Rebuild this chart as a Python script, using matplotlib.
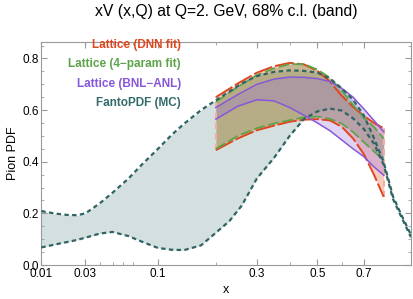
import matplotlib
matplotlib.use("Agg")
import matplotlib.pyplot as plt
import numpy as np

plt.rcParams['font.family'] = ['Liberation Sans', 'DejaVu Sans']

# ---------------- data ----------------
fanto_x = [0.01, 0.015, 0.02, 0.025, 0.03, 0.04, 0.05, 0.065, 0.08, 0.1, 0.12, 0.14, 0.17,
           0.2, 0.23, 0.26, 0.3, 0.35, 0.4, 0.45, 0.5, 0.55, 0.6, 0.65, 0.7, 0.75, 0.8,
           0.85, 0.9, 0.951]
fanto_up = [0.209, 0.199, 0.194, 0.193, 0.200, 0.240, 0.280, 0.335, 0.390, 0.450, 0.505, 0.548,
            0.600, 0.638, 0.672, 0.703, 0.732, 0.748, 0.754, 0.752, 0.745, 0.722, 0.684, 0.640,
            0.580, 0.492, 0.398, 0.265, 0.188, 0.117]
fanto_lo = [0.068, 0.080, 0.089, 0.097, 0.106, 0.122, 0.128, 0.112, 0.090, 0.066, 0.059, 0.058,
            0.076, 0.125, 0.170, 0.230, 0.335, 0.415, 0.500, 0.566, 0.595, 0.606, 0.598, 0.568,
            0.527, 0.470, 0.388, 0.255, 0.180, 0.108]

lat_x = [0.2, 0.25, 0.3, 0.35, 0.4, 0.45, 0.5, 0.55, 0.6, 0.65, 0.7, 0.75, 0.8]
dnn_up = [0.650, 0.703, 0.745, 0.770, 0.783, 0.777, 0.752, 0.710, 0.655, 0.612, 0.578, 0.550, 0.530]
dnn_lo = [0.445, 0.490, 0.522, 0.540, 0.555, 0.563, 0.565, 0.560, 0.535, 0.490, 0.430, 0.350, 0.264]
fp_up = [0.632, 0.690, 0.735, 0.762, 0.778, 0.778, 0.757, 0.725, 0.675, 0.620, 0.570, 0.535, 0.490]
fp_lo = [0.450, 0.500, 0.530, 0.548, 0.561, 0.572, 0.575, 0.566, 0.548, 0.515, 0.476, 0.440, 0.406]
bnl_up = [0.610, 0.660, 0.700, 0.720, 0.728, 0.727, 0.722, 0.710, 0.684, 0.650, 0.605, 0.560, 0.516]
bnl_lo = [0.565, 0.615, 0.640, 0.636, 0.610, 0.580, 0.550, 0.520, 0.484, 0.450, 0.420, 0.380, 0.348]

labels = ["Lattice (DNN fit)", "Lattice (4\u2212param fit)", "Lattice (BNL\u2212ANL)", "FantoPDF (MC)"]
xticks = [0.01, 0.03, 0.1, 0.3, 0.5, 0.7]
xtick_labels = ["0.01", "0.03", "0.1", "0.3", "0.5", "0.7"]
xminor = [0.04, 0.05, 0.06, 0.07, 0.2, 0.4, 0.6]
yticks = [0.0, 0.2, 0.4, 0.6, 0.8]

# ---------------- style ----------------
c_red = '#E0461E'
c_green = '#5DA34A'
c_purple = '#8757D9'
c_teal = '#2E6464'
c_teal_txt = '#336B6B'

fig = plt.figure(figsize=(4.13, 2.99), dpi=100)
ax = fig.add_axes([0.100, 0.1137, 0.895, 0.7468])

p = 0.35
ax.set_xscale('function', functions=(lambda v: np.power(np.clip(v, 1e-12, None), p),
                                      lambda v: np.power(np.clip(v, 0, None), 1 / p)))
ax.set_xlim(0.01, 0.951)
ax.set_ylim(0, 0.865)

# FantoPDF band
ax.fill_between(fanto_x, fanto_lo, fanto_up, color='#D4DFDF', lw=0, zorder=1)

# lattice bands
ax.fill_between(lat_x, dnn_lo, dnn_up, color='#EE8C78', alpha=0.45, lw=0, zorder=2)
ax.fill_between(lat_x, fp_lo, fp_up, color='#7A9A45', alpha=0.40, lw=0, zorder=2)
ax.fill_between(lat_x, bnl_lo, bnl_up, color='#9B72E0', alpha=0.30, lw=0, zorder=2)

# band edges at the ends of lattice range
for xe, lo, hi in [(lat_x[0], dnn_lo[0], dnn_up[0]), (lat_x[-1], dnn_lo[-1], dnn_up[-1])]:
    ax.plot([xe, xe], [lo, hi], color='#F4AFA3', lw=1.5, ls=(0, (3, 2)), zorder=3)

# boundary lines
ax.plot(lat_x, dnn_up, color=c_red, lw=1.4, ls=(0, (10, 1.5)), zorder=4)
ax.plot(lat_x, dnn_lo, color=c_red, lw=1.4, ls=(0, (10, 1.5)), zorder=4)
ax.plot(lat_x, fp_up, color=c_green, lw=1.3, ls=(0, (6, 2)), zorder=4)
ax.plot(lat_x, fp_lo, color=c_green, lw=1.3, ls=(0, (6, 2)), zorder=4)
ax.plot(lat_x, bnl_up, color=c_purple, lw=1.1, zorder=4)
ax.plot(lat_x, bnl_lo, color=c_purple, lw=1.1, zorder=4)
ax.plot(fanto_x, fanto_up, color=c_teal, lw=1.6, ls=(0, (2, 1.5)), zorder=5)
ax.plot(fanto_x, fanto_lo, color=c_teal, lw=1.6, ls=(0, (2, 1.5)), zorder=5)

# legend texts
for lab, col, yy in zip(labels, [c_red, c_green, c_purple, c_teal_txt], [0.985, 0.900, 0.811, 0.725]):
    ax.text(0.378, yy, lab, transform=ax.transAxes, ha='right', va='center',
            fontsize=8.5, fontweight='bold', color=col)

# axes styling
ax.set_xticks(xticks)
ax.set_xticklabels(xtick_labels)
ax.set_xticks(xminor, minor=True)
ax.set_yticks(yticks)
ax.set_yticklabels(["0.0", "0.2", "0.4", "0.6", "0.8"])
ax.set_yticks(np.arange(0.05, 0.86, 0.05), minor=True)
ax.tick_params(which='both', direction='in', top=True, right=True, color='#999999',
               labelsize=8.5, pad=2)
ax.tick_params(which='major', length=4, width=0.8)
ax.tick_params(which='minor', length=2.5, width=0.6)
for s in ax.spines.values():
    s.set_color('#999999')
    s.set_linewidth(0.8)

ax.set_xlabel('x', fontsize=9, labelpad=3)
ax.set_ylabel('Pion PDF', fontsize=9, labelpad=2)
fig.text(0.548, 0.96, 'xV (x,Q) at Q=2. GeV, 68% c.l. (band)', ha='center', va='center', fontsize=11.3)

fig.savefig('out.png', dpi=100)
